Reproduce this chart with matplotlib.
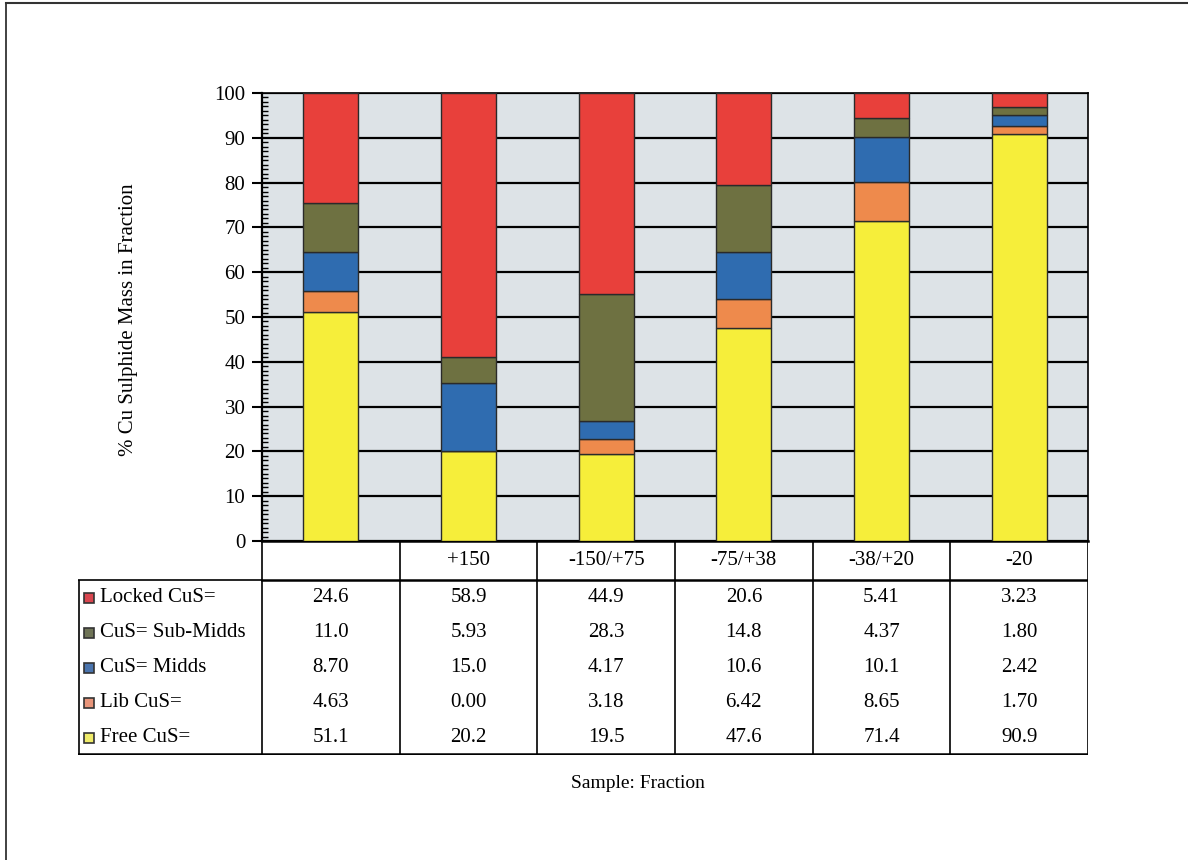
import matplotlib
matplotlib.use("Agg")
import matplotlib.pyplot as plt
from matplotlib.lines import Line2D
from matplotlib.patches import Rectangle
from matplotlib.ticker import MultipleLocator
import numpy as np

plt.rcParams['font.family'] = ['Liberation Serif', 'DejaVu Serif']

# Size fractions (first column is the unsized head sample)
fractions = ["", "+150", "-150/+75", "-75/+38", "-38/+20", "-20"]

# Series listed bottom-to-top of each stacked bar
series_names = ["Free CuS=", "Lib CuS=", "CuS= Midds", "CuS= Sub-Midds", "Locked CuS="]
free_cus = [51.1, 20.2, 19.5, 47.6, 71.4, 90.9]
lib_cus = [4.63, 0.00, 3.18, 6.42, 8.65, 1.70]
midds_cus = [8.70, 15.0, 4.17, 10.6, 10.1, 2.42]
submidds_cus = [11.0, 5.93, 28.3, 14.8, 4.37, 1.80]
locked_cus = [24.6, 58.9, 44.9, 20.6, 5.41, 3.23]

# Text as printed in the data table
free_txt = ["51.1", "20.2", "19.5", "47.6", "71.4", "90.9"]
lib_txt = ["4.63", "0.00", "3.18", "6.42", "8.65", "1.70"]
midds_txt = ["8.70", "15.0", "4.17", "10.6", "10.1", "2.42"]
submidds_txt = ["11.0", "5.93", "28.3", "14.8", "4.37", "1.80"]
locked_txt = ["24.6", "58.9", "44.9", "20.6", "5.41", "3.23"]

bar_colors = ["#f6ee3a", "#ee8a4c", "#2f6cb0", "#6e7141", "#e8403b"]
key_colors = ["#f0ec6a", "#e8957a", "#4a74ad", "#6f7457", "#d9464f"]

W, H = 1188, 860
fig = plt.figure(figsize=(W / 100, H / 100), dpi=100)
fig.patch.set_facecolor("white")

def fbox(x0, y0, x1, y1):
    return [x0 / W, 1 - y1 / H, (x1 - x0) / W, (y1 - y0) / H]

# ---- stacked bar chart ----
px_left, px_right, px_top, px_bot = 262, 1088, 93, 541
ax = fig.add_axes(fbox(px_left, px_top, px_right, px_bot))
ax.set_facecolor("#dde3e7")
x = np.arange(len(fractions))
stack = [free_cus, lib_cus, midds_cus, submidds_cus, locked_cus]
bottom = np.zeros(len(fractions))
for vals, col in zip(stack, bar_colors):
    vals = np.array(vals)
    ax.bar(x, vals, width=0.4, bottom=bottom, color=col,
           edgecolor="#2a2a2a", linewidth=1.0, zorder=3)
    bottom += vals

ax.set_xlim(-0.5, len(fractions) - 0.5)
ax.set_ylim(0, 100)
ax.yaxis.set_major_locator(MultipleLocator(10))
ax.yaxis.set_minor_locator(MultipleLocator(1))
ax.grid(axis="y", which="major", color="black", linewidth=1.6, zorder=1)
ax.set_axisbelow(True)
ax.set_xticks([])
ax.tick_params(axis="y", which="major", direction="out", length=7, width=1.5,
               labelsize=15, pad=5)
ax.tick_params(axis="y", which="minor", direction="in", length=4, width=1.0)
for s in ["left", "right", "top", "bottom"]:
    ax.spines[s].set_color("black")
ax.spines["left"].set_linewidth(1.6)
ax.spines["bottom"].set_linewidth(1.8)
ax.spines["top"].set_linewidth(1.2)
ax.spines["right"].set_linewidth(1.2)

fig.text(128 / W, 1 - 320 / H, "% Cu Sulphide Mass in Fraction",
         rotation=90, ha="center", va="center", fontsize=15)

# ---- data table under the bars ----
tb_left, tb_right, tb_top, tb_bot = 78, 1088, 541, 755
tax = fig.add_axes(fbox(tb_left, tb_top, tb_right, tb_bot))
unit = (px_right - px_left) / len(fractions)
x_lab = -0.5 - (px_left - tb_left) / unit
tax.set_xlim(x_lab, len(fractions) - 0.5)
tax.set_ylim(tb_bot - tb_top, 0)
tax.axis("off")

hdr_h = 39
row_h = (tb_bot - tb_top - hdr_h) / 5
lk = dict(color="black", linewidth=1.2, solid_capstyle="butt")

# header row frame
tax.plot([-0.5, len(fractions) - 0.5], [hdr_h, hdr_h], color="black", linewidth=1.8)
tax.plot([len(fractions) - 0.5] * 2, [0, tb_bot - tb_top], **lk)
for i in range(len(fractions)):
    tax.plot([i - 0.5] * 2, [0, tb_bot - tb_top], **lk)
# label column frame and table bottom
tax.plot([x_lab + 0.005, x_lab + 0.005], [hdr_h, tb_bot - tb_top], **lk)
tax.plot([x_lab, -0.5], [hdr_h, hdr_h], **lk)
tax.plot([x_lab, len(fractions) - 0.5], [tb_bot - tb_top - 0.8] * 2,
         color="black", linewidth=1.8)

fs_tab = 15
for i, lab in enumerate(fractions):
    tax.text(i, hdr_h / 2, lab, ha="center", va="center", fontsize=fs_tab)

rows_top_down = [
    ("Locked CuS=", locked_txt, key_colors[4]),
    ("CuS= Sub-Midds", submidds_txt, key_colors[3]),
    ("CuS= Midds", midds_txt, key_colors[2]),
    ("Lib CuS=", lib_txt, key_colors[1]),
    ("Free CuS=", free_txt, key_colors[0]),
]
key_w = 10 / unit
for r, (name, texts, kc) in enumerate(rows_top_down):
    yc = hdr_h + row_h * (r + 0.5)
    tax.add_patch(Rectangle((x_lab + 6 / unit, yc - 5), key_w, 10,
                            facecolor=kc, edgecolor="#333333", linewidth=1.2))
    tax.text(x_lab + 22 / unit, yc, name, ha="left", va="center", fontsize=fs_tab)
    for i, t in enumerate(texts):
        tax.text(i, yc, t, ha="center", va="center", fontsize=fs_tab)

fig.text(638 / W, 1 - 783 / H, "Sample: Fraction", ha="center", va="center",
         fontsize=14)

# page frame (top and left rules)
fig.add_artist(Line2D([6 / W, 1.0], [1 - 3 / H, 1 - 3 / H], color="#333333",
                      linewidth=1.5, transform=fig.transFigure))
fig.add_artist(Line2D([6 / W, 6 / W], [1 - 3 / H, 0.0], color="#333333",
                      linewidth=1.3, transform=fig.transFigure))

fig.savefig("out.png", dpi=100)
